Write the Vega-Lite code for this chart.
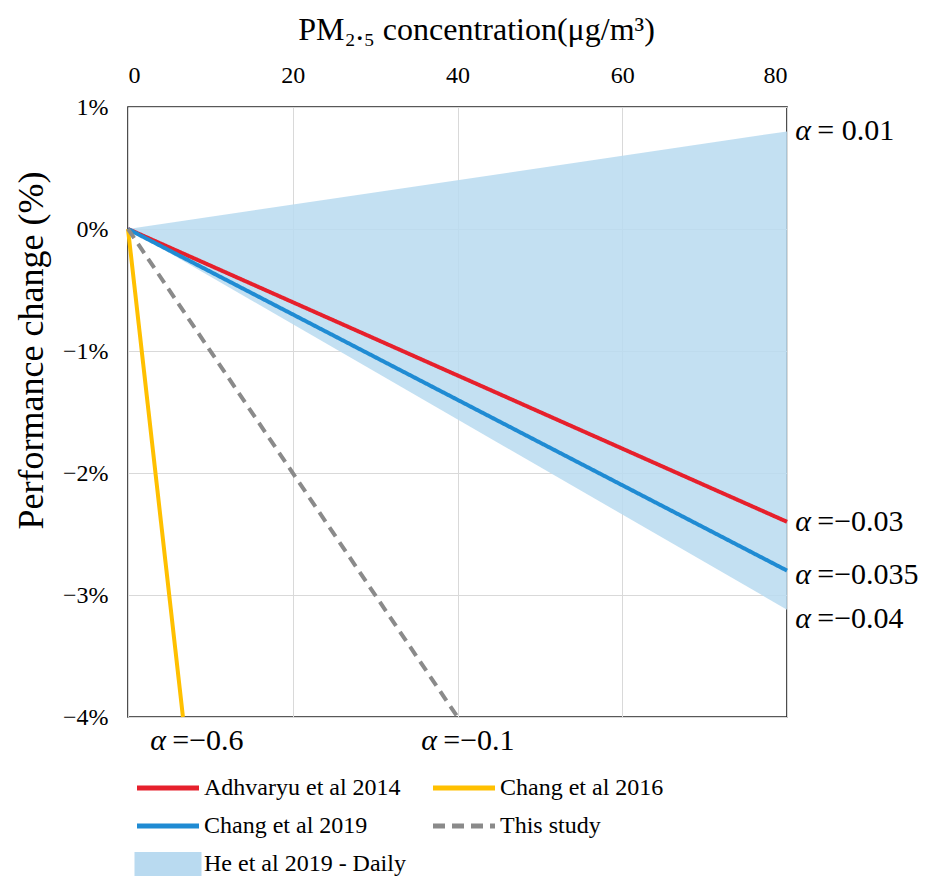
{
  "$schema": "https://vega.github.io/schema/vega-lite/v6.json",
  "width": 659,
  "height": 610,
  "autosize": "none",
  "padding": {"left": 128, "top": 107, "right": 146, "bottom": 159},
  "background": "white",
  "config": {
    "font": "Liberation Serif",
    "view": {"stroke": "#222222", "strokeWidth": 1.6},
    "axis": {"gridColor": "#d9d9d9", "gridWidth": 1, "domain": false, "ticks": false, "labelColor": "#000000", "titleColor": "#000000", "labelFont": "Liberation Serif", "titleFont": "Liberation Serif", "titleFontWeight": "normal"},
    "legend": {"labelFont": "Liberation Serif", "labelColor": "#000000"}
  },
  "datasets": {
    "lines": [
      {"series": "Adhvaryu et al 2014", "x": 0, "y": 0},
      {"series": "Adhvaryu et al 2014", "x": 80, "y": -2.4},
      {"series": "Chang et al 2016", "x": 0, "y": 0},
      {"series": "Chang et al 2016", "x": 6.67, "y": -4},
      {"series": "Chang et al 2019", "x": 0, "y": 0},
      {"series": "Chang et al 2019", "x": 80, "y": -2.8},
      {"series": "This study", "x": 0, "y": 0},
      {"series": "This study", "x": 40, "y": -4}
    ],
    "band": [
      {"series": "He et al 2019 - Daily", "x": 0, "hi": 0, "lo": 0},
      {"series": "He et al 2019 - Daily", "x": 80, "hi": 0.8, "lo": -3.12}
    ],
    "labels": [
      {"x": 81, "y": 0.8, "rest": "= 0.01"},
      {"x": 81, "y": -2.4, "rest": "=−0.03"},
      {"x": 81, "y": -2.84, "rest": "=−0.035"},
      {"x": 81, "y": -3.2, "rest": "=−0.04"},
      {"x": 2.7, "y": -4.2, "rest": "=−0.6"},
      {"x": 35.6, "y": -4.2, "rest": "=−0.1"}
    ]
  },
  "layer": [
    {
      "data": {"name": "band"},
      "mark": {"type": "area", "fillOpacity": 0.85},
      "encoding": {
        "x": {"field": "x", "type": "quantitative", "scale": {"domain": [0, 80], "nice": false},
          "axis": {"orient": "top", "values": [0, 20, 40, 60, 80], "labelFontSize": 24, "labelPadding": 20, "title": "PM₂.₅ concentration(μg/m³)", "titleFontSize": 32, "titlePadding": 17, "titleX": 348}},
        "y": {"field": "hi", "type": "quantitative", "scale": {"domain": [-4, 1], "nice": false},
          "axis": {"values": [-4, -3, -2, -1, 0, 1], "format": "d", "labelExpr": "datum.label + '%'", "labelFontSize": 24, "labelPadding": 20, "title": "Performance change (%)", "titleFontSize": 36, "titlePadding": 12, "titleY": 243}},
        "y2": {"field": "lo"},
        "color": {"field": "series", "type": "nominal",
          "scale": {"domain": ["Adhvaryu et al 2014", "Chang et al 2016", "Chang et al 2019", "This study", "He et al 2019 - Daily"],
                    "range": ["#e6202c", "#ffc000", "#1f8bd3", "#8a8a8a", "#b9daf0"]},
          "legend": {
            "orient": "bottom", "title": null, "columns": 2, "offset": 42, "padding": 9,
            "symbolType": "stroke", "symbolSize": 100, "symbolStrokeWidth": 5, "symbolOffset": 19,
            "labelFontSize": 24, "labelOffset": 24, "columnPadding": 17, "rowPadding": 14,
            "labelLimit": 400,
            "encode": {"symbols": {"update": {
              "shape": {"signal": "datum.value === 'He et al 2019 - Daily' ? 'M-6.7,-2.4H6.7V2.4H-6.7Z' : 'M-6.2,0H6.2'"},
              "fill": {"signal": "datum.value === 'He et al 2019 - Daily' ? '#c4e0f2' : 'transparent'"},
              "stroke": {"signal": "datum.value === 'He et al 2019 - Daily' ? 'transparent' : datum.value === 'Adhvaryu et al 2014' ? '#e6202c' : datum.value === 'Chang et al 2016' ? '#ffc000' : datum.value === 'Chang et al 2019' ? '#1f8bd3' : '#8a8a8a'"},
              "strokeDash": {"signal": "datum.value === 'This study' ? [12, 7] : [1, 0]"},
              "opacity": {"value": 1},
              "fillOpacity": {"value": 1},
              "strokeWidth": {"signal": "datum.value === 'He et al 2019 - Daily' ? 0 : 5"}
            }}}
          }}
      }
    },
    {
      "data": {"name": "lines"},
      "mark": {"type": "line", "strokeWidth": 4},
      "encoding": {
        "x": {"field": "x", "type": "quantitative"},
        "y": {"field": "y", "type": "quantitative"},
        "color": {"field": "series", "type": "nominal"},
        "detail": {"field": "series"},
        "strokeDash": {"condition": {"test": "datum.series === 'This study'", "value": [11, 7]}, "value": [1, 0]}
      }
    },
    {
      "data": {"name": "labels"},
      "mark": {"type": "text", "align": "left", "baseline": "middle", "fontStyle": "italic", "fontSize": 30, "font": "Liberation Serif", "color": "#000000"},
      "encoding": {
        "x": {"field": "x", "type": "quantitative"},
        "y": {"field": "y", "type": "quantitative"},
        "text": {"value": "α"}
      }
    },
    {
      "data": {"name": "labels"},
      "mark": {"type": "text", "align": "left", "baseline": "middle", "dx": 22, "fontSize": 30, "font": "Liberation Serif", "color": "#000000"},
      "encoding": {
        "x": {"field": "x", "type": "quantitative"},
        "y": {"field": "y", "type": "quantitative"},
        "text": {"field": "rest", "type": "nominal"}
      }
    }
  ]
}
